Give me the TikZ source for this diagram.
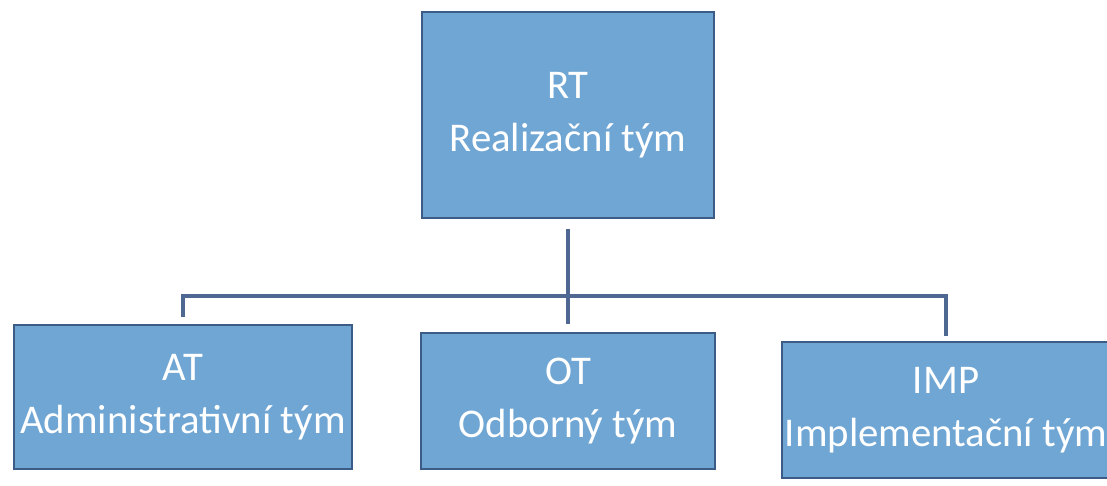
\documentclass[tikz,border=0pt]{standalone}
\usepackage{fontspec}
\setmainfont{Carlito}
\usepackage{tikz}
\usetikzlibrary{
    positioning
}
\definecolor{tymfill}{RGB}{112,166,212}
\definecolor{tymline}{RGB}{58,92,135}
\definecolor{spojline}{RGB}{78,104,146}
\tikzset{
    tym/.style={
        draw=tymline,
        line width=0.8pt,
        fill=tymfill,
        text=white,
        align=center,
        inner sep=2pt,
        font=\fontsize{29}{38}\selectfont
    },
    spoj/.style={
        draw=spojline,
        line width=2.8pt
    }
}

\begin{document}
\begin{tikzpicture}[
    x=0.025cm,
    y=-0.025cm
]
    \useasboundingbox (0,0) rectangle (1107,486);

    % Uzly
    \node[tym, minimum width=7.3cm, minimum height=5.15cm]  (rt)  at (568,115) {RT\\Realizační tým};
    \node[tym, minimum width=8.45cm, minimum height=3.6cm]  (at)  at (183,397) {AT\\Administrativní tým};
    \node[tym, minimum width=7.35cm, minimum height=3.4cm]  (ot)  at (568,401) {OT\\Odborný tým};
    \node[tym, minimum width=8.2cm, minimum height=3.4cm]   (imp) at (946,410) {IMP\\Implementační tým};

    \coordinate (bus) at (568,296);

    % Spojnice
    \draw[spoj, shorten <=10*0.025cm, shorten >=8*0.025cm] (rt) -- (ot);
    \draw[spoj, shorten >=7*0.025cm] (bus) -| (at);
    \draw[spoj, shorten >=5*0.025cm] (bus) -| (imp);

\end{tikzpicture}
\end{document}
